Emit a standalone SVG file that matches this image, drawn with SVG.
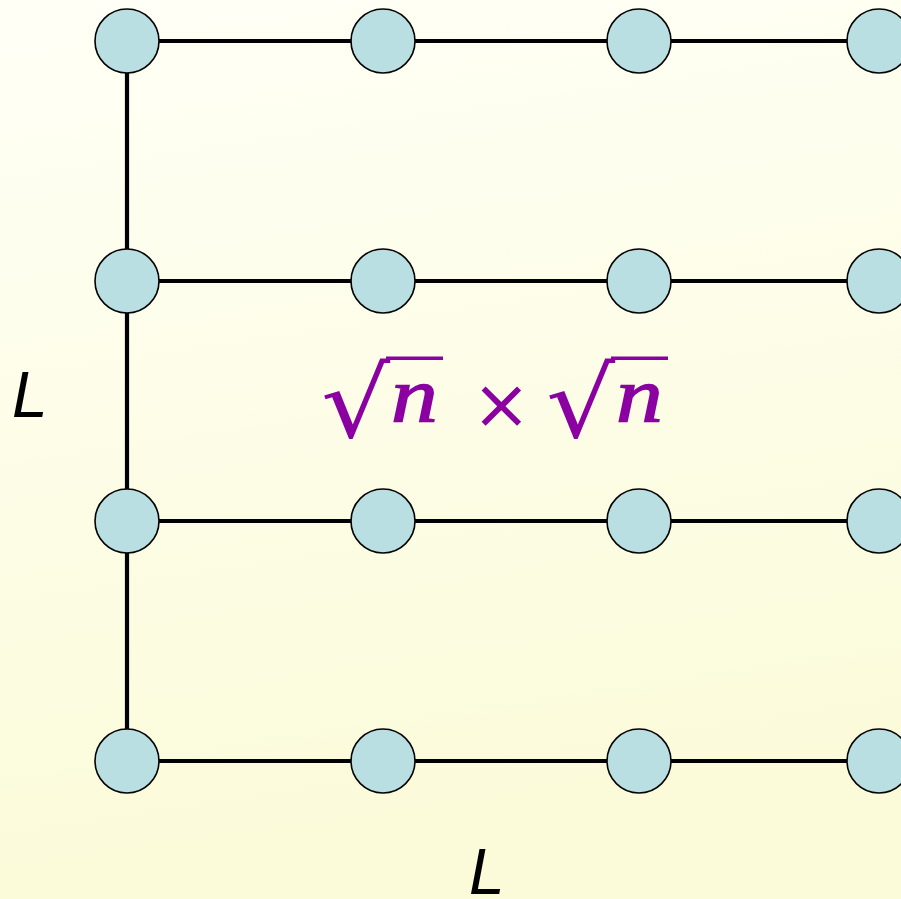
<svg xmlns="http://www.w3.org/2000/svg" width="901" height="899" viewBox="0 0 901 899">
<defs>
<linearGradient id="bg" x1="0" y1="0" x2="0.15" y2="1">
<stop offset="0" stop-color="#fffff6"/>
<stop offset="1" stop-color="#fbfbd9"/>
</linearGradient>
</defs>
<style>
.node{fill:#badfe3;stroke:#000;stroke-width:1.6}
.edge{stroke:#000;stroke-width:4.2;fill:none}
.lab{font-family:"Liberation Sans",Arial,sans-serif;font-style:italic;font-size:64px;fill:#000}
.math{fill:#8b00a0}
.mi{font-family:"Liberation Serif","DejaVu Serif",serif;font-style:italic;font-size:78px;stroke:#8b00a0;stroke-width:1.4}
.mo{font-family:"DejaVu Sans",sans-serif;font-size:70px}
.rad{font-family:"DejaVu Serif",serif;font-size:97px}
</style>
<rect width="901" height="899" fill="url(#bg)"/>
<g id="connectors">
<line class="edge" x1="127" y1="41" x2="879" y2="41"/>
<line class="edge" x1="127" y1="281" x2="879" y2="281"/>
<line class="edge" x1="127" y1="521" x2="879" y2="521"/>
<line class="edge" x1="127" y1="761" x2="879" y2="761"/>
<line class="edge" x1="127" y1="41" x2="127" y2="761"/>
</g>
<g id="n11"><circle class="node" cx="127" cy="41" r="32"/></g>
<g id="n12"><circle class="node" cx="383" cy="41" r="32"/></g>
<g id="n13"><circle class="node" cx="639" cy="41" r="32"/></g>
<g id="n14"><circle class="node" cx="879" cy="41" r="32"/></g>
<g id="n21"><circle class="node" cx="127" cy="281" r="32"/></g>
<g id="n22"><circle class="node" cx="383" cy="281" r="32"/></g>
<g id="n23"><circle class="node" cx="639" cy="281" r="32"/></g>
<g id="n24"><circle class="node" cx="879" cy="281" r="32"/></g>
<g id="n31"><circle class="node" cx="127" cy="521" r="32"/></g>
<g id="n32"><circle class="node" cx="383" cy="521" r="32"/></g>
<g id="n33"><circle class="node" cx="639" cy="521" r="32"/></g>
<g id="n34"><circle class="node" cx="879" cy="521" r="32"/></g>
<g id="n41"><circle class="node" cx="127" cy="761" r="32"/></g>
<g id="n42"><circle class="node" cx="383" cy="761" r="32"/></g>
<g id="n43"><circle class="node" cx="639" cy="761" r="32"/></g>
<g id="n44"><circle class="node" cx="879" cy="761" r="32"/></g>
<g id="label-left"><text class="lab" x="12" y="417">L</text></g>
<g id="label-bottom"><text class="lab" x="469" y="894">L</text></g>
<g id="formula" class="math">
<text class="rad" transform="translate(321,437) scale(1.12,1)">√</text>
<rect x="386" y="356.5" width="57" height="3.5"/>
<text class="mi" transform="translate(391,422) scale(1.2,1)">n</text>
<text class="mo" x="472" y="428">×</text>
<text class="rad" transform="translate(546,437) scale(1.12,1)">√</text>
<rect x="611" y="356.5" width="57" height="3.5"/>
<text class="mi" transform="translate(616,422) scale(1.2,1)">n</text>
</g>
</svg>
